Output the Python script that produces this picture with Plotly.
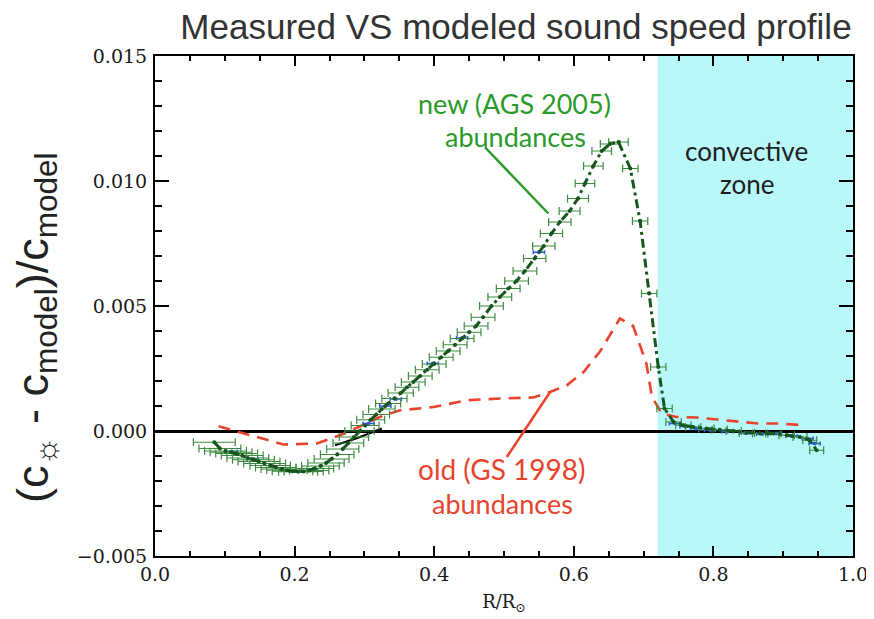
import plotly.graph_objects as go

# ---------------- data ----------------
# new (AGS 2005) abundances: measured points with horizontal resolution bars
r_new = [0.085, 0.093, 0.101, 0.109, 0.117, 0.125, 0.133, 0.141, 0.149, 0.157,
         0.165, 0.173, 0.181, 0.189, 0.197, 0.205, 0.213, 0.221, 0.229, 0.237,
         0.245, 0.253, 0.261, 0.269, 0.277, 0.285, 0.293, 0.301, 0.309, 0.317,
         0.325, 0.334, 0.343, 0.352, 0.361, 0.370, 0.380, 0.390, 0.400, 0.410,
         0.420, 0.430, 0.440, 0.450, 0.460, 0.470, 0.482, 0.494, 0.506, 0.518,
         0.530, 0.544, 0.557, 0.568, 0.580, 0.594, 0.606, 0.616, 0.628, 0.640,
         0.652, 0.664, 0.681, 0.695, 0.708, 0.721, 0.730, 0.743, 0.757, 0.771,
         0.790, 0.809, 0.829, 0.848, 0.867, 0.886, 0.905, 0.924, 0.938, 0.948]
dc_new = [-0.00045, -0.00070, -0.00080, -0.00085, -0.00090, -0.00098, -0.00108, -0.00115, -0.00122, -0.00130,
          -0.00138, -0.00146, -0.00152, -0.00157, -0.00161, -0.00163, -0.00162, -0.00158, -0.00150, -0.00140,
          -0.00128, -0.00112, -0.00094, -0.00072, -0.00048, -0.00024, 0.00000, 0.00022, 0.00045, 0.00066,
          0.00088, 0.00110, 0.00130, 0.00152, 0.00175, 0.00196, 0.00220, 0.00245, 0.00268, 0.00295,
          0.00320, 0.00345, 0.00370, 0.00395, 0.00420, 0.00455, 0.00500, 0.00536, 0.00570, 0.00600,
          0.00640, 0.00690, 0.00740, 0.00790, 0.00836, 0.00880, 0.00930, 0.00990, 0.01060, 0.01120,
          0.01148, 0.01156, 0.01050, 0.00840, 0.00550, 0.00256, 0.00090, 0.00036, 0.00023, 0.00016,
          0.00010, 0.00005, 0.00000, -0.00008, -0.00010, -0.00010, -0.00017, -0.00024, -0.00037, -0.00077]
dr_new = [0.030, 0.030, 0.030, 0.030, 0.030, 0.030, 0.030, 0.030, 0.030, 0.030,
          0.029, 0.029, 0.029, 0.029, 0.029, 0.028, 0.028, 0.028, 0.027, 0.027,
          0.026, 0.025, 0.024, 0.023, 0.022, 0.021, 0.021, 0.020, 0.020, 0.019,
          0.019, 0.018, 0.018, 0.018, 0.017, 0.017, 0.017, 0.017, 0.017, 0.017,
          0.017, 0.017, 0.017, 0.017, 0.017, 0.017, 0.017, 0.017, 0.017, 0.017,
          0.017, 0.016, 0.016, 0.016, 0.016, 0.015, 0.015, 0.014, 0.014, 0.014,
          0.014, 0.014, 0.011, 0.011, 0.011, 0.011, 0.011, 0.011, 0.011, 0.011,
          0.011, 0.011, 0.011, 0.011, 0.011, 0.011, 0.011, 0.010, 0.010, 0.010]

# second inversion (blue), mostly hidden under the green one
r_blue = [0.110, 0.140, 0.200, 0.225, 0.306, 0.330, 0.345, 0.398, 0.440, 0.550,
          0.745, 0.760, 0.775, 0.795, 0.820, 0.845, 0.870, 0.890, 0.912, 0.935, 0.945]
dc_blue = [-0.00082, -0.00112, -0.00160, -0.00156, 0.00030, 0.00100, 0.00128, 0.00270, 0.00372, 0.00715,
           0.00030, 0.00018, 0.00010, 0.00004, -0.00002, -0.00008, -0.00012, -0.00010, -0.00020, -0.00030, -0.00050]

# old (GS 1998) abundances model difference
r_old = [0.091, 0.127, 0.184, 0.232, 0.265, 0.294, 0.322, 0.351, 0.399, 0.447,
         0.494, 0.542, 0.566, 0.590, 0.614, 0.638, 0.666, 0.685, 0.704, 0.712,
         0.726, 0.747, 0.776, 0.805, 0.833, 0.864, 0.895, 0.930]
dc_old = [0.00019, -0.00010, -0.00054, -0.00050, -0.00017, 0.00019, 0.00056, 0.00083, 0.00096, 0.00123,
          0.00130, 0.00134, 0.00156, 0.00183, 0.00236, 0.00320, 0.00450, 0.00420, 0.00270, 0.00136,
          0.00070, 0.00056, 0.00054, 0.00046, 0.00039, 0.00030, 0.00030, 0.00023]

# short black segment near the zero crossing
r_black = [0.258, 0.290, 0.325]
dc_black = [-0.00057, -0.00028, 0.00010]

# convective zone boundary
r_cz = [0.72, 1.0]

# pointer lines for the labels
new_ptr_r = [0.4728, 0.5635]
new_ptr_c = [0.01135, 0.00870]
old_ptr_r = [0.5660, 0.5040]
old_ptr_c = [0.00156, -0.00104]

x_ticks = [0.0, 0.2, 0.4, 0.6, 0.8, 1.0]
y_ticks = [-0.005, 0.0, 0.005, 0.010, 0.015]

# ---------------- figure ----------------
GREEN_DARK = "#17561c"
GREEN_ERR = "#3d8b40"
GREEN_TXT = "#2a9a2a"
RED = "#e8432c"
BLUE = "#2a5fd0"
TICKFONT = dict(family="DejaVu Serif", size=19, color="#1a1a1a")

fig = go.Figure()

fig.add_trace(go.Scatter(x=r_old, y=dc_old, mode="lines",
                         line=dict(color=RED, width=2.6, dash="12px,8px"),
                         hoverinfo="skip", showlegend=False))

fig.add_trace(go.Scatter(x=r_black, y=dc_black, mode="lines",
                         line=dict(color="black", width=2),
                         hoverinfo="skip", showlegend=False))

fig.add_trace(go.Scatter(x=r_blue, y=dc_blue, mode="markers",
                         marker=dict(color=BLUE, size=4),
                         error_x=dict(type="constant", value=0.008, color=BLUE,
                                      thickness=1.5, width=2),
                         hoverinfo="skip", showlegend=False))

fig.add_trace(go.Scatter(x=r_new, y=dc_new, mode="markers",
                         marker=dict(color=GREEN_DARK, size=4),
                         error_x=dict(type="data", array=dr_new, color=GREEN_ERR,
                                      thickness=1.2, width=4),
                         hoverinfo="skip", showlegend=False))

fig.add_trace(go.Scatter(x=r_new, y=dc_new, mode="lines",
                         line=dict(color=GREEN_DARK, width=3, dash="9px,4px,3px,4px"),
                         hoverinfo="skip", showlegend=False))

# pointer lines
fig.add_trace(go.Scatter(x=new_ptr_r, y=new_ptr_c, mode="lines",
                         line=dict(color=GREEN_TXT, width=2.5),
                         hoverinfo="skip", showlegend=False))
fig.add_trace(go.Scatter(x=old_ptr_r, y=old_ptr_c, mode="lines",
                         line=dict(color=RED, width=2.5),
                         hoverinfo="skip", showlegend=False))

# convective zone
fig.add_shape(type="rect", xref="x", yref="y", x0=r_cz[0], x1=r_cz[1],
              y0=-0.005, y1=0.015, fillcolor="#b9f8f9", line=dict(width=0),
              layer="below")

LABFONT = "Lato"
ann = [
    dict(x=0.515, y=0.0131, text="new (AGS 2005)", color=GREEN_TXT, size=27),
    dict(x=0.516, y=0.0118, text="abundances", color=GREEN_TXT, size=27),
    dict(x=0.848, y=0.0112, text="convective", color="#1e1e1e", size=26),
    dict(x=0.848, y=0.0099, text="zone", color="#1e1e1e", size=26),
    dict(x=0.497, y=-0.00150, text="old (GS 1998)", color=RED, size=28),
    dict(x=0.498, y=-0.00290, text="abundances", color=RED, size=27),
]
for a in ann:
    fig.add_annotation(x=a["x"], y=a["y"], xref="x", yref="y", text=a["text"],
                       showarrow=False,
                       font=dict(family=LABFONT, size=a["size"], color=a["color"]))

# y-axis title as rotated annotation
fig.add_annotation(x=-0.172, y=0.456, xref="paper", yref="paper",
                   xanchor="center", yanchor="middle",
                   text="(c<sub>☼</sub> - c<sub>model</sub>)/c<sub>model</sub>",
                   textangle=-90, showarrow=False,
                   font=dict(family="Liberation Sans", size=45, color="#222"))

# the page adds an 8px body margin, so the figure is 8px smaller than the window
fig.update_layout(
    width=866, height=611,
    margin=dict(l=147, r=21, t=48, b=63, autoexpand=False),
    paper_bgcolor="white", plot_bgcolor="white",
    title=dict(text="Measured VS modeled sound speed profile",
               x=0.5866, xanchor="center", y=0.970, yanchor="middle",
               font=dict(family="Liberation Sans", size=35, color="#333"),
               automargin=False),
    showlegend=False,
)

fig.update_xaxes(range=[0, 1], tickvals=x_ticks, tickformat=".1f", automargin=False,
                 ticks="inside", ticklen=10, tickwidth=1.5, tickcolor="black",
                 showline=True, linecolor="black", linewidth=2, mirror="allticks",
                 showgrid=False, zeroline=False, tickfont=TICKFONT,
                 minor=dict(ticks="inside", ticklen=5, dtick=0.05, tick0=0,
                            tickcolor="black", tickwidth=1.5, showgrid=False),
                 title=dict(text="R/R<sub>⊙</sub>", standoff=12,
                            font=dict(family="DejaVu Serif", size=18, color="#1a1a1a")))

fig.update_yaxes(range=[-0.005, 0.015], tickvals=y_ticks, tickformat=".3f", automargin=False,
                 ticks="inside", ticklen=14, tickwidth=1.5, tickcolor="black",
                 showline=True, linecolor="black", linewidth=2, mirror="allticks",
                 showgrid=False, zeroline=True, zerolinecolor="black", zerolinewidth=2.5,
                 tickfont=TICKFONT, ticklabelstandoff=2,
                 minor=dict(ticks="inside", ticklen=7, dtick=0.001, tick0=0,
                            tickcolor="black", tickwidth=1.5, showgrid=False))

fig.write_html("out.html")
